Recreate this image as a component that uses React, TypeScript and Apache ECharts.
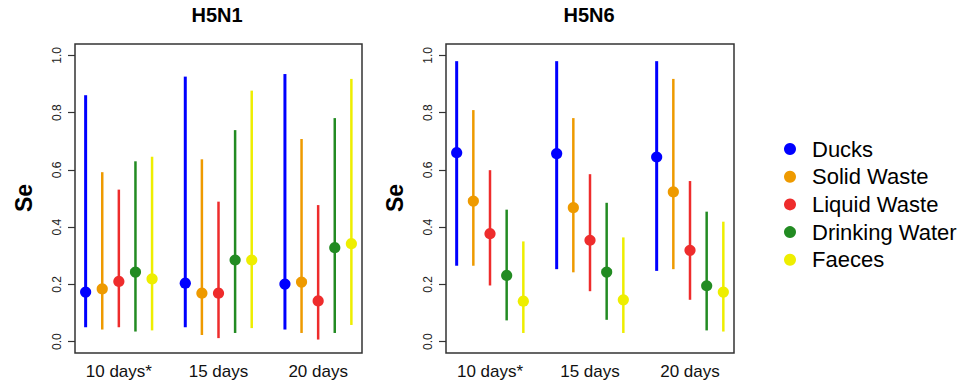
import React, { useEffect, useRef } from "react";
import * as echarts from "echarts";

const timepoints = ["10 days*", "15 days", "20 days"];
const sources = ["Ducks", "Solid Waste", "Liquid Waste", "Drinking Water", "Faeces"];
const sourceColors = ["#0000FF", "#EE9A00", "#EE2C2C", "#228B22", "#EEEE00"];
const yTicks = [0, 0.2, 0.4, 0.6, 0.8, 1.0];
const panelTitles = ["H5N1", "H5N6"];

// rows = source, columns = time point
const h5n1Est = [
  [0.173, 0.204, 0.201],
  [0.184, 0.169, 0.208],
  [0.21, 0.169, 0.142],
  [0.243, 0.285, 0.328],
  [0.219, 0.285, 0.342],
];
const h5n1Low = [
  [0.05, 0.05, 0.042],
  [0.042, 0.023, 0.03],
  [0.05, 0.012, 0.007],
  [0.035, 0.03, 0.03],
  [0.039, 0.047, 0.058],
];
const h5n1High = [
  [0.861, 0.926, 0.935],
  [0.592, 0.637, 0.708],
  [0.531, 0.489, 0.477],
  [0.63, 0.739, 0.781],
  [0.646, 0.877, 0.918],
];
const h5n6Est = [
  [0.66, 0.657, 0.645],
  [0.491, 0.468, 0.523],
  [0.377, 0.354, 0.319],
  [0.231, 0.243, 0.195],
  [0.141, 0.146, 0.173],
];
const h5n6Low = [
  [0.265, 0.253, 0.247],
  [0.265, 0.242, 0.253],
  [0.196, 0.176, 0.146],
  [0.074, 0.076, 0.039],
  [0.03, 0.03, 0.035],
];
const h5n6High = [
  [0.98, 0.98, 0.98],
  [0.809, 0.781, 0.918],
  [0.599, 0.585, 0.561],
  [0.461, 0.485, 0.454],
  [0.35, 0.364, 0.419],
];

const FONT = '"Liberation Sans", Arial, Helvetica, sans-serif';
const groupStart = [1, 7, 13];
const labelPos = [3, 9, 15];

function buildSeries(est: number[][], low: number[][], high: number[][], panel: number) {
  return sources.map((name, s) => {
    const color = sourceColors[s];
    const lw = s === 0 ? 3 : 2.5;
    const data = timepoints.map((_, t) => [groupStart[t] + s, low[s][t], est[s][t], high[s][t]]);
    return {
      type: "custom",
      name,
      xAxisIndex: panel,
      yAxisIndex: panel,
      color,
      itemStyle: { color },
      encode: { x: 0, y: [1, 2, 3] },
      data,
      renderItem: (params: any, api: any) => {
        const x = api.value(0);
        const p1 = api.coord([x, api.value(1)]);
        const p2 = api.coord([x, api.value(3)]);
        const pc = api.coord([x, api.value(2)]);
        return {
          type: "group",
          children: [
            {
              type: "line",
              shape: { x1: p1[0], y1: p1[1], x2: p2[0], y2: p2[1] },
              style: { stroke: color, lineWidth: lw },
            },
            {
              type: "circle",
              shape: { cx: pc[0], cy: pc[1], r: 5.6 },
              style: { fill: color },
            },
          ],
        };
      },
    };
  });
}

export default function App() {
  const ref = useRef<HTMLDivElement>(null);
  useEffect(() => {
    document.body.style.margin = "0";
    if (!ref.current) return;
    const chart = echarts.init(ref.current, null, { renderer: "svg" });
    const grids = [
      { left: 75, top: 44, width: 287, height: 309 },
      { left: 446, top: 44, width: 288, height: 309 },
    ].map((g) => ({ ...g, show: true, borderColor: "#333", borderWidth: 1.5, backgroundColor: "transparent" }));
    const xAxes = [0, 1].map((i) => ({
      type: "value",
      gridIndex: i,
      min: 0.36,
      max: 17.64,
      axisLine: { show: false },
      axisTick: { show: false },
      splitLine: { show: false },
      axisLabel: {
        customValues: labelPos,
        formatter: (v: number) => {
          const idx = labelPos.indexOf(Math.round(v));
          return idx >= 0 ? timepoints[idx] : "";
        },
        fontSize: 17,
        fontFamily: FONT,
        color: "#111",
        margin: 10,
      },
    }));
    const yAxes = [0, 1].map((i) => ({
      type: "value",
      gridIndex: i,
      min: -0.04,
      max: 1.04,
      axisLine: { show: false },
      splitLine: { show: false },
      axisTick: {
        show: true,
        customValues: yTicks,
        length: 7,
        lineStyle: { color: "#333", width: 1.2 },
      },
      axisLabel: {
        customValues: yTicks,
        formatter: (v: number) => v.toFixed(1),
        rotate: 90,
        align: "center",
        verticalAlign: "bottom",
        margin: 12,
        fontSize: 12,
        fontFamily: FONT,
        color: "#222",
      },
    }));
    const graphics: any[] = [];
    const titleX = [217, 589];
    const seX = [24, 395];
    panelTitles.forEach((t, i) => {
      graphics.push({
        type: "text",
        x: titleX[i],
        y: 15,
        style: {
          text: t,
          textAlign: "center",
          textVerticalAlign: "middle",
          font: `bold 20px ${FONT}`,
          fill: "#000",
        },
      });
      graphics.push({
        type: "text",
        x: seX[i],
        y: 198,
        rotation: Math.PI / 2,
        style: {
          text: "Se",
          textAlign: "center",
          textVerticalAlign: "middle",
          font: `bold 23px ${FONT}`,
          fill: "#000",
        },
      });
    });
    chart.setOption({
      animation: false,
      backgroundColor: "#fff",
      grid: grids,
      xAxis: xAxes,
      yAxis: yAxes,
      legend: {
        data: sources,
        orient: "vertical",
        left: 779,
        top: 133,
        icon: "circle",
        itemWidth: 34,
        itemHeight: 12,
        itemGap: 5.7,
        selectedMode: false,
        textStyle: { fontSize: 22, fontFamily: FONT, color: "#000", lineHeight: 22 },
      },
      graphic: graphics,
      series: [
        ...buildSeries(h5n1Est, h5n1Low, h5n1High, 0),
        ...buildSeries(h5n6Est, h5n6Low, h5n6High, 1),
      ],
    });
    return () => chart.dispose();
  }, []);
  return <div ref={ref} style={{ width: 976, height: 387 }} />;
}
